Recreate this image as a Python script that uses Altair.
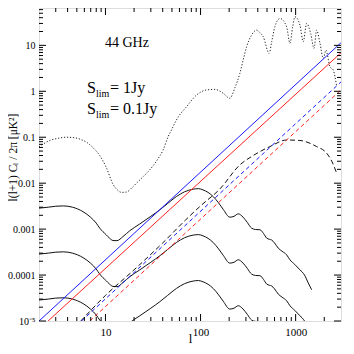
import altair as alt
import pandas as pd

# ---------------- data ----------------
# CMB-like spectrum (dotted)
cmb_l = [2.0, 2.6, 3.2, 3.9, 4.8, 5.6, 6.5, 7.35, 8.7, 10.2, 12.0, 13.5, 14.7, 16.6, 19.0,
         21.2, 25.0, 29.2, 35.0, 40.4, 45.6, 49.5, 55.8, 71.2, 90.8, 115.7, 141.5, 173, 203,
         230, 259, 280, 305, 340, 388, 420, 456, 527, 560, 605, 684, 804, 871, 930, 984,
         1110, 1202, 1306, 1439, 1560, 1664, 1803, 1954, 2084, 2296, 2488, 2594, 2703]
cmb_v = [0.062, 0.085, 0.095, 0.1, 0.097, 0.088, 0.075, 0.06, 0.04, 0.022, 0.0095, 0.007,
         0.0063, 0.0064, 0.008, 0.01, 0.014, 0.0195, 0.032, 0.053, 0.103, 0.144, 0.238, 0.462,
         0.83, 1.07, 1.10, 0.905, 0.705, 1.2, 2.46, 4.7, 9.3, 16.0, 21.5, 19.0, 15.4, 6.7, 12.0,
         25.4, 38.6, 25.4, 11.1, 25.0, 41.9, 27.6, 12.0, 30.0, 18.2, 8.6, 21.5, 11.1, 5.2, 7.9,
         3.43, 2.9, 2.07, 1.26]

# solid black curves
src_l = [2.0, 2.5, 3.0, 3.6, 4.5, 5.8, 7.0, 8.0, 8.7, 10.2, 11.0, 12.0, 13.2, 15.3, 18.0,
         23.0, 30.0, 37.3, 45.0, 55.8, 68.0, 83.6, 95.0, 106, 120, 136, 155, 173, 203, 225,
         249, 280, 310, 344, 380, 421, 460, 495, 530, 559, 600, 656, 720, 804, 871, 980,
         1110, 1240, 1358, 1473]
src_a = [0.00286, 0.0030, 0.00315, 0.0032, 0.0030, 0.0024, 0.0018, 0.00135, 0.00105, 0.00075,
         0.00064, 0.000565, 0.00056, 0.00069, 0.00092, 0.0013, 0.0019, 0.00263, 0.0036,
         0.00512, 0.0065, 0.0074, 0.0076, 0.00715, 0.0063, 0.0051, 0.0037, 0.0027, 0.00182,
         0.0019, 0.00215, 0.00182, 0.0014, 0.00105, 0.00098, 0.00097, 0.0008, 0.00064, 0.0006,
         0.00058, 0.0005, 0.000386, 0.00033, 0.000276, 0.000215, 0.00017, 0.00013, 0.0001,
         0.000067, 0.000048]
src_b = [0.000286, 0.00030, 0.000315, 0.00032, 0.00030, 0.00024, 0.00018, 0.000135, 0.000105,
         0.000075, 0.000064, 0.0000565, 0.000056, 0.000069, 0.000092, 0.00013, 0.00019,
         0.000263, 0.00036, 0.000512, 0.00065, 0.00074, 0.00076, 0.000715, 0.00063, 0.00051,
         0.00037, 0.00027, 0.000182, 0.00019, 0.000215, 0.000182, 0.00014, 0.000105, 0.000098,
         0.000097, 0.00008, 0.000064, 0.00006, 0.000058, 0.00005, 0.0000386, 0.000033,
         0.0000276, 0.0000215, 0.000017, 0.000013, 0.00001, 0.0000067, 0.0000048]
src_c = [0.0000286, 0.000030, 0.0000315, 0.000032, 0.000030, 0.000024, 0.000018, 0.0000135,
         0.0000105, 0.0000075, 0.0000064, 0.00000565, 0.0000056, 0.0000069, 0.0000092,
         0.000013, 0.000019, 0.0000263, 0.000036, 0.0000512, 0.000065, 0.000074, 0.000076,
         0.0000715, 0.000063, 0.000051, 0.000037, 0.000027, 0.0000182, 0.000019, 0.0000215,
         0.0000182, 0.000014, 0.0000105, 0.0000098, 0.0000097, 0.000008, 0.0000064, 0.000006,
         0.0000058, 0.000005, 0.00000386, 0.0000033, 0.00000276, 0.00000215, 0.0000017,
         0.0000013, 0.000001, 0.00000067, 0.00000048]

# black dashed curve
dsh_l = [5.5, 10, 20, 40, 70, 100, 160, 259, 358, 536, 804, 1110, 1664, 2120, 2400, 2703]
dsh_v = [0.00001, 0.000036, 0.00013, 0.0005, 0.0016, 0.0032, 0.0075, 0.025, 0.04, 0.0625,
         0.087, 0.085, 0.0625, 0.045, 0.03, 0.0165]

# straight power laws (end points)
blue_solid_l, blue_solid_v = [2.0, 3000], [0.00001, 11.4]
red_solid_l, red_solid_v = [2.49, 3000], [0.00001, 6.9]
blue_dash_l, blue_dash_v = [5.59, 3000], [0.00001, 1.6]
red_dash_l, red_dash_v = [6.84, 3000], [0.00001, 1.07]

# ticks
x_major = [10, 100, 1000]
x_minor = [3, 4, 5, 6, 7, 8, 9, 20, 30, 40, 50, 60, 70, 80, 90,
           200, 300, 400, 500, 600, 700, 800, 900, 2000]
y_major = [1e-5, 1e-4, 1e-3, 1e-2, 1e-1, 1, 10]
y_minor = [k * d for d in [1e-5, 1e-4, 1e-3, 1e-2, 1e-1, 1, 10] for k in range(2, 10) if k * d < 65]

# ---------------- chart ----------------
W, H = 302, 313
FONT = "Liberation Serif"
xs = alt.Scale(type="log", domain=[2, 3000], nice=False)
ys = alt.Scale(type="log", domain=[1e-5, 65], nice=False)

xaxis = alt.Axis(values=x_major, format="d", ticks=False, domain=False, grid=False,
                 labelFont=FONT, labelFontSize=11, labelPadding=5, labelColor="black",
                 title="l", titleFont=FONT, titleFontSize=13, titleFontWeight="normal",
                 titleX=W / 2, titleY=21, titleBaseline="alphabetic", titleColor="black")
yaxis = alt.Axis(values=y_major,
                 labelExpr="datum.value < 0.00002 ? '10⁻⁵' : format(datum.value, '~g')",
                 ticks=False, domain=False, grid=False, labelFont=FONT, labelFontSize=10,
                 labelPadding=4, labelColor="black",
                 title="l(l+1) Cₗ  /  2π  [μK²]", titleFont=FONT, titleFontSize=11.5,
                 titleFontWeight="normal", titleX=-26, titleY=149, titleAngle=270,
                 titleAlign="center", titleBaseline="middle", titleColor="black")


def X(field):
    return alt.X(f"{field}:Q", scale=xs, axis=xaxis)


def Y(field):
    return alt.Y(f"{field}:Q", scale=ys, axis=yaxis)


def curve(ls, vs, color, width=1.0, dash=None):
    df = pd.DataFrame({"l": ls, "v": vs})
    kw = dict(color=color, strokeWidth=width, clip=True, interpolate="monotone")
    if dash:
        kw["strokeDash"] = dash
    return alt.Chart(df).mark_line(**kw).encode(x=X("l"), y=Y("v"))


layers = [
    curve(cmb_l, cmb_v, "#222222", 1.0, [1.2, 1.8]),
    curve(src_l, src_a, "#111111", 1.0),
    curve(src_l, src_b, "#111111", 1.0),
    curve(src_l, src_c, "#111111", 1.0),
    curve(dsh_l, dsh_v, "#111111", 1.0, [5, 3]),
    curve(blue_solid_l, blue_solid_v, "#1a1aff", 1.0),
    curve(red_solid_l, red_solid_v, "#ff2020", 1.0),
    curve(blue_dash_l, blue_dash_v, "#1a1aff", 1.0, [4, 3]),
    curve(red_dash_l, red_dash_v, "#ff2020", 1.0, [4, 3]),
]


def xticks(vals, length):
    df = pd.DataFrame({"l": vals})
    base = alt.Chart(df).mark_rule(color="black", strokeWidth=1)
    return [base.encode(x=X("l"), y=alt.value(H), y2=alt.value(H - length)),
            base.encode(x=X("l"), y=alt.value(0), y2=alt.value(length))]


def yticks(vals, length):
    df = pd.DataFrame({"v": vals})
    base = alt.Chart(df).mark_rule(color="black", strokeWidth=1)
    return [base.encode(y=Y("v"), x=alt.value(0), x2=alt.value(length)),
            base.encode(y=Y("v"), x=alt.value(W), x2=alt.value(W - length))]


layers += xticks(x_major, 7) + xticks(x_minor, 4) + yticks(y_major, 7) + yticks(y_minor, 4)

# annotations
ann = [
    ("44  GHz", 66, 39, 14),
    ("S", 48, 85, 16), ("lim", 57, 88.5, 10), ("= 1Jy", 71, 85, 16),
    ("S", 48, 106, 16), ("lim", 57, 109.5, 10), ("= 0.1Jy", 71, 106, 16),
]
for txt, px, py, fs in ann:
    layers.append(
        alt.Chart(pd.DataFrame({"t": [txt]})).mark_text(
            font=FONT, fontSize=fs, align="left", baseline="alphabetic", color="black"
        ).encode(text="t:N", x=alt.value(px), y=alt.value(py))
    )

chart = alt.layer(*layers).properties(
    width=W, height=H,
    autosize=alt.AutoSizeParams(type="none"),
    padding={"left": 31, "top": 0, "right": 4, "bottom": 25},
).configure_view(stroke="black", strokeWidth=1).configure(background="white")

chart.save("out.html", embed_options={"renderer": "svg", "actions": False})
